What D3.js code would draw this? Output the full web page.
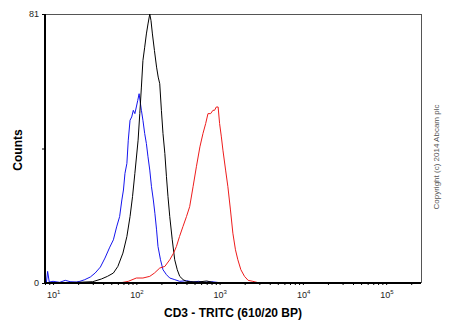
<!DOCTYPE html>
<html><head><meta charset="utf-8">
<script src="https://cdn.jsdelivr.net/npm/d3@7"></script>
<style>body{margin:0;background:#fff}svg{display:block}</style>
</head><body>
<svg id="c" width="450" height="334"></svg>
<script>
// Data (fluorescence value, count)
const blueX = [8.3, 8.6, 9, 10, 12, 14, 16, 19, 21, 24, 28, 32, 37, 42, 48, 53, 58, 63, 67, 70, 73, 77, 80, 84, 88, 92, 96, 100, 104, 108, 112, 115, 120, 126, 132, 138, 145, 152, 160, 167, 175, 182, 195, 209, 230, 252, 290, 332, 400, 480, 560, 650, 800, 1000];
const blueY = [0, 3.5, 0.3, 0.5, 0.2, 0.8, 0.4, 0.3, 0.5, 1.0, 1.8, 3.0, 4.8, 7.5, 10.8, 13, 16.9, 20, 25, 28, 33, 36, 43, 49, 50, 52, 51, 53, 55, 57, 54, 52, 49, 45, 42, 38, 34, 29, 25, 21, 16, 11, 7, 4, 2.5, 1.5, 1, 0.5, 0.7, 0.3, 0.5, 0.2, 0.4, 0.1];
const blackX = [10, 20, 30, 38, 45, 53, 60, 69, 77, 84, 90, 96, 105, 110, 115, 120, 126, 132, 138, 145, 150, 156, 165, 175, 183, 191, 200, 209, 220, 230, 240, 252, 270, 289, 310, 332, 365, 399, 450, 550, 700, 900];
const blackY = [0, 0.2, 0.4, 1.2, 2, 3, 5, 9, 14, 20, 26, 33, 43, 51, 59, 67, 71, 75, 78, 81, 79, 75, 70, 65, 62, 60, 52, 45, 39, 32, 26, 20, 13, 7, 4, 2, 1, 0.5, 0.4, 0.3, 0.6, 0];
const redX = [40, 63, 80, 100, 120, 145, 165, 191, 220, 252, 280, 303, 330, 363, 400, 437, 480, 526, 580, 631, 680, 725, 780, 832, 870, 912, 960, 1000, 1050, 1096, 1180, 1257, 1350, 1443, 1550, 1656, 1800, 1991, 2200, 2506, 3013];
const redY = [0, 0, 0.5, 1.5, 1.5, 2, 3, 4.5, 5, 7, 9, 11, 14, 17, 20, 23, 29, 35, 41, 45, 48, 51, 51, 52, 52, 53, 53, 48, 44, 40, 34, 29, 22, 15, 10, 7, 4, 2, 0.8, 0.5, 0];
const xTicks = [10, 100, 1000, 10000, 100000];
const yTicks = [0, 40.5, 81];
const yTickLabels = ["0", "", "81"];

const svg = d3.select("#c");
const L = 45, R = 421, T = 14, B = 283;
const x = d3.scaleLog().domain([8, 262144]).range([L, R]);
const y = d3.scaleLinear().domain([0, 81]).range([B, T]);

// frame top/right
svg.append("line").attr("x1", L).attr("x2", R).attr("y1", T + 0.5).attr("y2", T + 0.5).attr("stroke", "#555").attr("stroke-width", 1);
svg.append("line").attr("x1", R + 0.5).attr("x2", R + 0.5).attr("y1", T).attr("y2", B).attr("stroke", "#555").attr("stroke-width", 1);

const line = d3.line().x(d => x(d[0])).y(d => y(d[1]));
const series = [[blueX, blueY, "#1515ee"], [blackX, blackY, "#000"], [redX, redY, "#ee1c1c"]];
series.forEach(([xs, ys, col]) => {
  svg.append("path").datum(xs.map((v, i) => [v, ys[i]]))
    .attr("d", line).attr("fill", "none").attr("stroke", col).attr("stroke-width", 1);
});

// x axis
const minor = [];
for (let e = 0; e <= 5; e++) for (let m = 1; m < 10; m++) { const v = m * Math.pow(10, e); if (v >= 8 && v <= 262144) minor.push(v); }
const xa = svg.append("g").attr("transform", `translate(0,${B})`);
xa.call(d3.axisBottom(x).tickValues(minor).tickSize(2).tickFormat(""));
xa.select(".domain").attr("stroke", "#000").attr("stroke-width", 2).attr("d", `M${L},0H${R}`);
xa.selectAll(".tick line").attr("stroke", "#000");
xTicks.forEach((v, i) => {
  const t = svg.append("text").attr("x", x(v) - 6).attr("y", 298).attr("font-family", "Arial, Liberation Sans, sans-serif").attr("font-size", 9).attr("fill", "#222");
  t.append("tspan").text("10");
  t.append("tspan").attr("dy", -4).attr("font-size", 6).text(String(i + 1));
});

// y axis
const ya = svg.append("g").attr("transform", `translate(${L},0)`);
ya.call(d3.axisLeft(y).tickValues(yTicks).tickSize(3).tickFormat((d, i) => yTickLabels[i]));
ya.select(".domain").attr("stroke", "#000").attr("stroke-width", 2).attr("d", `M0,${T}V${B}`);
ya.selectAll(".tick text").attr("font-family", "Arial, Liberation Sans, sans-serif").attr("font-size", 9).attr("fill", "#222").attr("x", -6);

// titles
svg.append("text").attr("x", 233).attr("y", 317).attr("text-anchor", "middle")
  .attr("font-family", "Arial, Liberation Sans, sans-serif").attr("font-weight", "bold").attr("font-size", 12).text("CD3 - TRITC (610/20 BP)");
svg.append("text").attr("transform", "translate(22,150) rotate(-90)").attr("text-anchor", "middle")
  .attr("font-family", "Arial, Liberation Sans, sans-serif").attr("font-weight", "bold").attr("font-size", 12).text("Counts");
svg.append("text").attr("transform", "translate(439,157) rotate(-90)").attr("text-anchor", "middle")
  .attr("font-family", "Arial, Liberation Sans, sans-serif").attr("font-size", 8).attr("fill", "#555").text("Copyright (c) 2014 Abcam plc");
</script>
</body></html>
